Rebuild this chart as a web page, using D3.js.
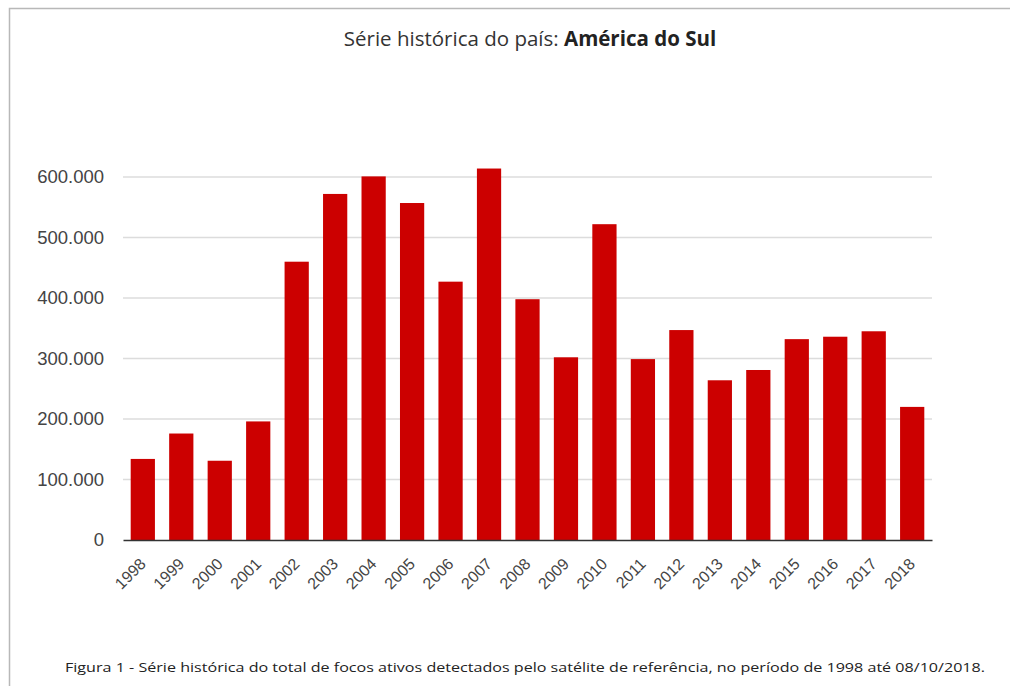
<!DOCTYPE html>
<html>
<head>
<meta charset="utf-8">
<script src="https://cdn.jsdelivr.net/npm/d3@7"></script>
<style>
  body { margin: 0; background: #fff; }
  svg { display: block; }
</style>
</head>
<body>
<svg id="chart" width="1010" height="686"></svg>
<script>
// data
const years = ['1998', '1999', '2000', '2001', '2002', '2003', '2004', '2005', '2006', '2007',
  '2008', '2009', '2010', '2011', '2012', '2013', '2014', '2015', '2016', '2017', '2018']
const focos = [134000, 176000, 131000, 196000, 460000, 572000, 601000, 557000, 427000, 614000,
  398000, 302000, 522000, 299000, 347000, 264000, 281000, 332000, 336000, 345000, 220000]
const yTicks = [0, 100000, 200000, 300000, 400000, 500000, 600000]
const titleNormal = 'Série histórica do país: '
const titleBold = 'América do Sul'
const caption = 'Figura 1 - Série histórica do total de focos ativos detectados pelo satélite de referência, no período de 1998 até 08/10/2018.'

const width = 1010
const height = 686
const marginLeft = 123
const marginRight = 78
const marginTop = 177
const marginBottom = 146

const boundWidth = width - marginLeft - marginRight
const boundHeight = height - marginTop - marginBottom

const svg = d3.select('#chart')

// frame
svg.append('path')
    .attr('d', `M9.5,${height} V8.5 H${width}`)
    .attr('fill', 'none')
    .attr('stroke', '#b8b8b8')
    .attr('stroke-width', 1.5)

const title = svg.append('text')
    .attr('x', 530)
    .attr('y', 46)
    .attr('text-anchor', 'middle')
    .attr('font-family', 'Open Sans, sans-serif')
    .attr('font-size', 20.5)
    .attr('fill', '#333')
title.append('tspan').text(titleNormal)
title.append('tspan').attr('font-weight', 'bold').attr('fill', '#222').text(titleBold)

const bounds = svg.append('g')
    .attr('transform', `translate(${marginLeft}, ${marginTop})`)

const xScale = d3.scaleBand()
    .domain(years)
    .range([0, boundWidth])
    .paddingInner(0.37)
    .paddingOuter(0.2)

const yScale = d3.scaleLinear()
    .domain([0, 600000])
    .range([boundHeight, 0])

// gridlines
bounds.append('g')
    .selectAll('line')
    .data(yTicks.slice(1))
    .join('line')
    .attr('x1', 0)
    .attr('x2', boundWidth)
    .attr('y1', d => yScale(d))
    .attr('y2', d => yScale(d))
    .attr('stroke', '#dcdcdc')
    .attr('stroke-width', 1.5)

// y axis labels
const fmt = d => d === 0 ? '0' : d3.format(',')(d).replace(/,/g, '.')
const yAxis = bounds.append('g')
    .call(d3.axisLeft(yScale).tickValues(yTicks).tickFormat(fmt).tickSize(0).tickPadding(19))
yAxis.select('.domain').remove()
yAxis.selectAll('text')
    .attr('font-family', 'Liberation Sans, Arial, sans-serif')
    .attr('font-size', 18.5)
    .attr('fill', '#444')

// bars
bounds.append('g')
    .selectAll('rect')
    .data(focos)
    .join('rect')
    .attr('x', (d, i) => xScale(years[i]))
    .attr('y', d => yScale(d))
    .attr('width', xScale.bandwidth())
    .attr('height', d => boundHeight - yScale(d))
    .attr('fill', '#cc0000')

// x axis
const xAxis = bounds.append('g')
    .attr('transform', `translate(0, ${boundHeight})`)
    .call(d3.axisBottom(xScale).tickSize(0).tickPadding(0))
xAxis.select('.domain')
    .attr('stroke', '#333')
    .attr('stroke-width', 1.3)
xAxis.selectAll('text')
    .attr('font-family', 'Liberation Sans, Arial, sans-serif')
    .attr('font-size', 16)
    .attr('fill', '#444')
    .attr('text-anchor', 'end')
    .attr('dy', '0.35em')
    .attr('transform', 'translate(0, 21) rotate(-45)')

svg.append('text')
    .attr('x', 525)
    .attr('y', 672)
    .attr('text-anchor', 'middle')
    .attr('font-family', 'Open Sans, sans-serif')
    .attr('font-size', 13.5)
    .attr('fill', '#222')
    .attr('textLength', 920)
    .attr('lengthAdjust', 'spacingAndGlyphs')
    .text(caption)
</script>
</body>
</html>
